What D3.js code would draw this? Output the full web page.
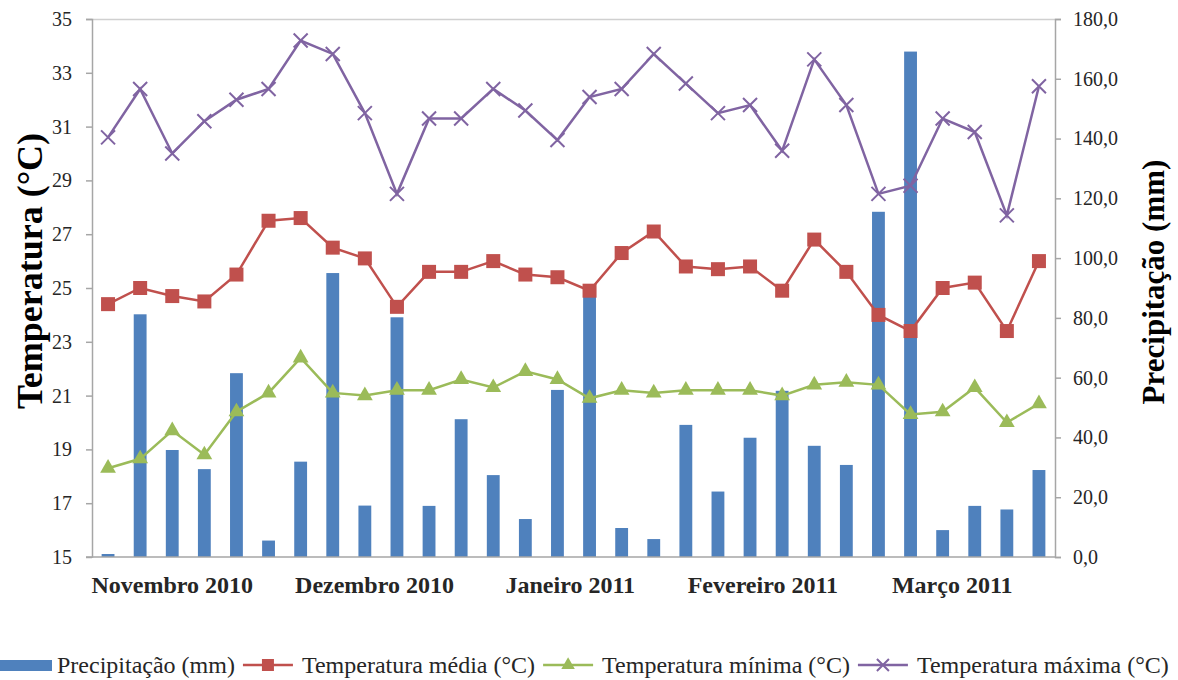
<!DOCTYPE html>
<html>
<head>
<meta charset="utf-8">
<script src="https://cdn.jsdelivr.net/npm/d3@7"></script>
<style>
  body { margin: 0; background: #fff; }
  svg { display: block; font-family: "Liberation Serif", "Times New Roman", serif; }
</style>
</head>
<body>
<div id="wrapper"></div>
<script>
// valores (30 períodos, nov/2010 a mar/2011)
const periodos = d3.range(30);
const precipitacao = [1.0, 81.2, 35.8, 29.4, 61.5, 5.5, 31.9, 95.0, 17.2, 80.2,
                      17.1, 46.1, 27.4, 12.7, 55.9, 88.5, 9.7, 6.0, 44.2, 21.9,
                      39.9, 55.6, 37.2, 30.8, 115.5, 169.1, 9.0, 17.1, 15.9, 29.1];
const tempMedia = [24.4, 25.0, 24.7, 24.5, 25.5, 27.5, 27.6, 26.5, 26.1, 24.3,
                   25.6, 25.6, 26.0, 25.5, 25.4, 24.9, 26.3, 27.1, 25.8, 25.7,
                   25.8, 24.9, 26.8, 25.6, 24.0, 23.4, 25.0, 25.2, 23.4, 26.0];
const tempMinima = [18.3, 18.65, 19.7, 18.8, 20.4, 21.1, 22.4, 21.1, 21.0, 21.2,
                    21.2, 21.6, 21.3, 21.9, 21.6, 20.9, 21.2, 21.1, 21.2, 21.2,
                    21.2, 21.0, 21.4, 21.5, 21.4, 20.3, 20.4, 21.3, 20.0, 20.7];
const tempMaxima = [30.6, 32.4, 30.0, 31.2, 32.0, 32.4, 34.2, 33.7, 31.5, 28.5,
                    31.3, 31.3, 32.4, 31.6, 30.5, 32.1, 32.4, 33.7, 32.6, 31.5,
                    31.8, 30.1, 33.5, 31.8, 28.5, 28.8, 31.3, 30.8, 27.7, 32.5];
const meses = ["Novembro 2010", "Dezembro 2010", "Janeiro 2011", "Fevereiro 2011", "Março 2011"];
const mesesPos = [2.0, 8.3, 14.4, 20.4, 26.3];   // periodo sob o qual fica o rotulo
const tempTicks = d3.range(15, 36, 2);
const precTicks = d3.range(0, 181, 20);

const cores = {
    prec: "#4F81BD",
    media: "#C0504D",
    minima: "#9BBB59",
    maxima: "#8064A2",
    eixo: "#A6A6A6",
    texto: "#262626"
};

var dimension = {
    width: 1178,
    height: 680,
    margin: { top: 19, left: 92, bottom: 123, right: 123 }
};
dimension.boundedWidth = dimension.width - dimension.margin.left - dimension.margin.right;
dimension.boundedHeight = dimension.height - dimension.margin.top - dimension.margin.bottom;

const svg = d3.select("#wrapper").append("svg")
    .attr("width", dimension.width)
    .attr("height", dimension.height);

const bounded = svg.append("g")
    .attr("transform", `translate(${dimension.margin.left},${dimension.margin.top})`);

const xBand = d3.scaleBand()
    .domain(periodos)
    .range([0, dimension.boundedWidth])
    .paddingInner(0.6)
    .paddingOuter(0.3);
const xCentro = d3.scaleLinear()
    .domain([-0.5, periodos.length - 0.5])
    .range([0, dimension.boundedWidth]);

const yTemp = d3.scaleLinear().domain([15, 35]).range([dimension.boundedHeight, 0]);
const yPrec = d3.scaleLinear().domain([0, 180]).range([dimension.boundedHeight, 0]);

// linha do topo da area do grafico
bounded.append("line")
    .attr("x1", 0).attr("x2", dimension.boundedWidth)
    .attr("y1", 0.5).attr("y2", 0.5)
    .attr("stroke", "#D0D0D0").attr("stroke-width", 1.5);

// barras de precipitacao
bounded.append("g").selectAll("rect")
    .data(precipitacao)
    .join("rect")
    .attr("x", (d, i) => xBand(i))
    .attr("width", xBand.bandwidth())
    .attr("y", d => yPrec(d))
    .attr("height", d => yPrec(0) - yPrec(d))
    .attr("fill", cores.prec);

// eixos
const yAxisLeft = d3.axisLeft(yTemp).tickValues(tempTicks).tickSize(6).tickPadding(14);
const yAxisRight = d3.axisRight(yPrec).tickValues(precTicks).tickSize(6).tickPadding(12)
    .tickFormat(d => d3.format(".1f")(d).replace(".", ","));

function estiloEixo(g) {
    g.selectAll(".domain").attr("stroke", cores.eixo).attr("stroke-width", 1.5);
    g.selectAll(".tick line").attr("stroke", cores.eixo).attr("stroke-width", 1.5);
    g.selectAll(".tick text")
        .attr("fill", cores.texto)
        .style("font-size", "20px")
        .style("font-family", "Liberation Serif");
}

bounded.append("g").call(yAxisLeft).call(estiloEixo)
    .call(g => g.select(".domain").attr("d", `M-6,0.5H0.5V${dimension.boundedHeight}H-6`));
bounded.append("g")
    .attr("transform", `translate(${dimension.boundedWidth},0)`)
    .call(yAxisRight).call(estiloEixo);

bounded.append("line")
    .attr("x1", 0).attr("x2", dimension.boundedWidth)
    .attr("y1", dimension.boundedHeight).attr("y2", dimension.boundedHeight)
    .attr("stroke", cores.eixo).attr("stroke-width", 1.5);

// rotulos dos meses
bounded.append("g").selectAll("text")
    .data(meses)
    .join("text")
    .attr("x", (d, i) => xCentro(mesesPos[i]))
    .attr("y", dimension.boundedHeight + 36)
    .attr("text-anchor", "middle")
    .style("font-size", "24px")
    .style("font-weight", "bold")
    .attr("fill", cores.texto)
    .text(d => d);

// series de temperatura
const series = [
    { nome: "media", valores: tempMedia, cor: cores.media, marcador: "quadrado" },
    { nome: "minima", valores: tempMinima, cor: cores.minima, marcador: "triangulo" },
    { nome: "maxima", valores: tempMaxima, cor: cores.maxima, marcador: "x" }
];

const lineGenerator = d3.line()
    .x((d, i) => xCentro(i))
    .y(d => yTemp(d));

function desenhaMarcador(sel, tipo, cor, tam) {
    if (tipo === "quadrado") {
        sel.append("rect")
            .attr("x", -tam / 2).attr("y", -tam / 2)
            .attr("width", tam).attr("height", tam)
            .attr("fill", cor);
    } else if (tipo === "triangulo") {
        sel.append("path")
            .attr("d", d3.symbol(d3.symbolTriangle, tam * tam * 0.55)())
            .attr("fill", cor);
    } else {
        const h = tam / 2;
        sel.append("path")
            .attr("d", `M${-h},${-h}L${h},${h}M${-h},${h}L${h},${-h}`)
            .attr("stroke", cor).attr("stroke-width", 2)
            .attr("fill", "none");
    }
}

series.forEach(s => {
    bounded.append("path")
        .attr("d", lineGenerator(s.valores))
        .attr("fill", "none")
        .attr("stroke", s.cor)
        .attr("stroke-width", 2.5);
    bounded.append("g").selectAll("g")
        .data(s.valores)
        .join("g")
        .attr("transform", (d, i) => `translate(${xCentro(i)},${yTemp(d)})`)
        .each(function () { desenhaMarcador(d3.select(this), s.marcador, s.cor, 14); });
});

// titulos dos eixos
svg.append("text")
    .attr("transform", "translate(42,271) rotate(-90)")
    .attr("text-anchor", "middle")
    .style("font-size", "36px")
    .style("font-weight", "bold")
    .attr("fill", "#000")
    .text("Temperatura (°C)");

svg.append("text")
    .attr("transform", "translate(1164,282) rotate(-90)")
    .attr("text-anchor", "middle")
    .style("font-size", "31px")
    .style("font-weight", "bold")
    .attr("fill", "#000")
    .text("Precipitação (mm)");

// legenda
const legendaItens = [
    { texto: "Precipitação (mm)", cor: cores.prec, marcador: "barra" },
    { texto: "Temperatura média (°C)", cor: cores.media, marcador: "quadrado" },
    { texto: "Temperatura mínima (°C)", cor: cores.minima, marcador: "triangulo" },
    { texto: "Temperatura máxima (°C)", cor: cores.maxima, marcador: "x" }
];

const legenda = svg.append("g").attr("transform", "translate(0,665)");
let cursor = 0;
legendaItens.forEach(item => {
    const g = legenda.append("g").attr("transform", `translate(${cursor},0)`);
    let textoX;
    if (item.marcador === "barra") {
        g.append("rect").attr("x", 0).attr("y", -5).attr("width", 52).attr("height", 11).attr("fill", item.cor);
        textoX = 57;
    } else {
        g.append("line").attr("x1", 0).attr("x2", 50).attr("y1", 0).attr("y2", 0)
            .attr("stroke", item.cor).attr("stroke-width", 2.5);
        const m = g.append("g").attr("transform", "translate(25,0)");
        desenhaMarcador(m, item.marcador, item.cor, 12);
        textoX = 59;
    }
    const t = g.append("text")
        .attr("x", textoX)
        .attr("y", 8)
        .style("font-size", "24px")
        .attr("fill", cores.texto)
        .text(item.texto);
    cursor += textoX + t.node().getComputedTextLength() + 8;
});
</script>
</body>
</html>
